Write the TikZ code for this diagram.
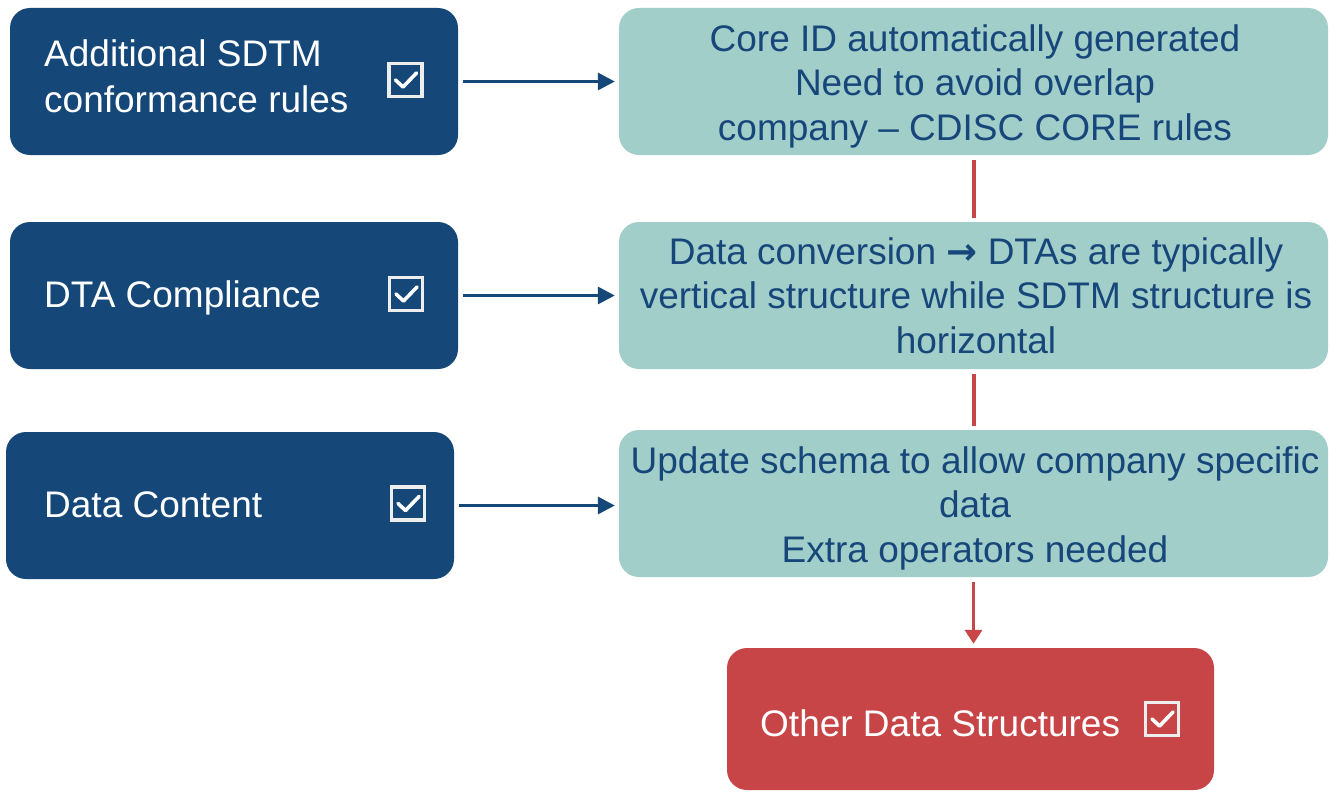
\documentclass[tikz,border=0pt]{standalone}
\usepackage{fontspec}
\setmainfont{Liberation Sans}
\newfontfamily\arrowfont{DejaVu Sans}
\usetikzlibrary{arrows.meta}

\definecolor{navybox}{RGB}{21,71,121}
\definecolor{tealbox}{RGB}{161,206,201}
\definecolor{tealtext}{RGB}{23,70,122}
\definecolor{redbox}{RGB}{199,69,70}
\definecolor{redline}{RGB}{200,70,72}
\definecolor{chkgray}{RGB}{238,238,238}

% strut that fixes the first baseline 30pt below a node's north edge
\newcommand{\fl}{\rule{0pt}{30pt}}
% heavy right arrow used inside running text
\newcommand{\rarr}{{\arrowfont\bfseries →}}

\tikzset{
  boxbase/.style={rectangle, rounded corners=20pt, inner sep=0pt, draw=none},
  navy/.style={boxbase, fill=navybox, minimum width=448pt, minimum height=147pt},
  tealb/.style={boxbase, fill=tealbox, minimum width=709pt, minimum height=147pt},
  redb/.style={boxbase, fill=redbox, minimum width=487pt, minimum height=142pt},
  whitetxt/.style={anchor=north west, inner sep=0pt, align=left, text=white,
    font=\fontsize{37pt}{46pt}\selectfont},
  tealtxt/.style={anchor=north, inner sep=0pt, align=center, text=tealtext,
    font=\fontsize{37pt}{44.7pt}\selectfont},
  chkbox/.style={rectangle, draw=chkgray, line width=3.5pt, inner sep=0pt,
    minimum size=33pt,
    path picture={\draw[white, line width=3.6pt, line cap=round, line join=round]
      ([shift={(-10,0)}]path picture bounding box.center) -- ++(7.5,7) -- ++(13.5,-14);}},
  bluearr/.style={draw=navybox, line width=3.3pt,
    -{Triangle[length=17pt, width=17pt]}, shorten <=5pt, shorten >=4pt},
  redln/.style={draw=redline, line width=4pt, shorten <=5pt, shorten >=4pt},
  redarr/.style={redln, -{Triangle[length=14pt, width=17pt]}, line width=3.6pt},
}

\begin{document}
\begin{tikzpicture}[x=1pt, y=-1pt]
\useasboundingbox (0,0) rectangle (1329,792);

% left column
\node[navy] (bA) at (234,81.5) {};
\node[navy] (bB) at (234,295.5) {};
\node[navy] (bC) at (230,505.5) {};

% right column
\node[tealb] (c1) at (973.5,81.5) {};
\node[tealb] (c2) at (973.5,295.5) {};
\node[tealb] (c3) at (973.5,503.5) {};
\node[redb] (rd) at (970.5,719) {};

% labels
\node[whitetxt] (tA) at (44,36) {\fl Additional SDTM\\conformance rules};
\node[whitetxt] (tB) at (44,277) {\fl DTA Compliance};
\node[whitetxt] (tC) at (44,487) {\fl Data Content};
\node[whitetxt] (tR) at (760,706) {\fl Other Data Structures};

\node[tealtxt] (t1) at (975,21) {\fl Core ID automatically generated\\Need to avoid overlap\\company – CDISC CORE rules};
\node[tealtxt] (t2) at (976,234) {\fl Data conversion \rarr{} DTAs are typically\\vertical structure while SDTM structure is\\horizontal};
\node[tealtxt] (t3) at (975,443) {\fl Update schema to allow company specific\\data\\Extra operators needed};

% check boxes
\node[chkbox] (kA) at (405.5,80) {};
\node[chkbox] (kB) at (406,294) {};
\node[chkbox] (kC) at (408,503.5) {};
\node[chkbox] (kR) at (1162,719) {};

% connectors
\draw[bluearr] (bA.east) -- (c1.west);
\draw[bluearr] (bB.east) -- (c2.west);
\draw[bluearr] (bC.east) -- (bC.east -| c3.west);

\draw[redln] (c1.south) -- (c2.north);
\draw[redln] (c2.south) -- (c3.north);
\draw[redarr] (c3.south) -- (c3.south |- rd.north);
\end{tikzpicture}
\end{document}
